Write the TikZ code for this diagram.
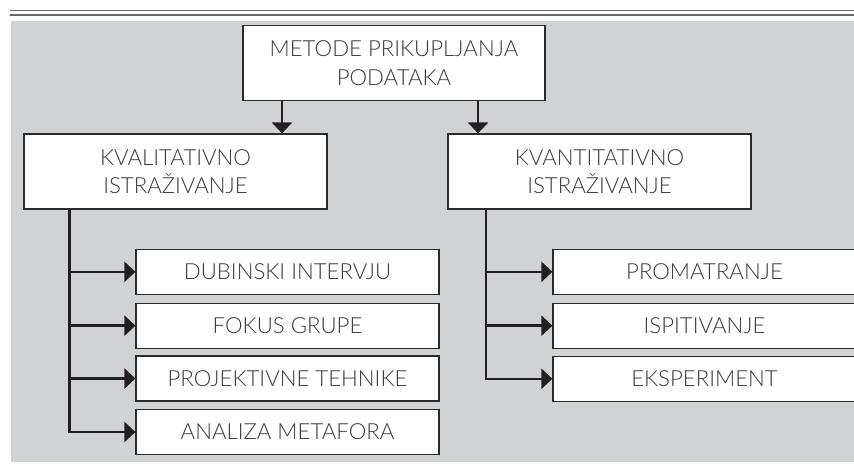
\documentclass[tikz,border=0pt]{standalone}
\usepackage{fontspec}
\setmainfont{Lato Light}
\usetikzlibrary{arrows.meta}
\definecolor{bggray}{HTML}{D1D2D4}
\definecolor{txt}{HTML}{3A3A3A}
\definecolor{edge}{HTML}{2B2B2B}
\definecolor{conn}{HTML}{231F20}
\definecolor{rule}{HTML}{6A6A6A}
\tikzset{
  box/.style={draw=edge, line width=1.2pt, fill=white, text=txt, align=center,
    inner sep=0pt, font=\fontsize{22.2}{28.4}\selectfont},
  bigbox/.style={box, minimum width=302pt, minimum height=75pt},
  smallbox/.style={box, minimum width=303pt, minimum height=45pt},
  arr/.style={draw=conn, line width=2.5pt, -{Triangle[length=11pt,width=20pt]}},
  trunk/.style={draw=conn, line width=2.5pt},
}
\begin{document}
\begin{tikzpicture}[x=1pt,y=-1pt]
\clip (0,0) rectangle (854,466);
\fill[white] (0,0) rectangle (854,466);
\fill[bggray] (11,21) rectangle (854,462);
\draw[rule, line width=1.3pt] (10,10.8) -- (854,10.8);
\draw[rule, line width=1.3pt] (10,15) -- (854,15);

\node[bigbox] (top) at (394,63) {METODE PRIKUPLJANJA\\PODATAKA};
\node[bigbox, minimum width=303pt] (kval) at (175.5,171.5) {KVALITATIVNO\\ISTRAŽIVANJE};
\node[bigbox, minimum width=303pt] (kvan) at (599.5,171.5) {KVANTITATIVNO\\ISTRAŽIVANJE};

\node[smallbox] (d1) at (287.5,271.8) {DUBINSKI INTERVJU};
\node[smallbox] (d2) at (287.5,325.7) {FOKUS GRUPE};
\node[smallbox] (d3) at (287.5,378.5) {PROJEKTIVNE TEHNIKE};
\node[smallbox] (d4) at (287.5,432) {ANALIZA METAFORA};

\node[smallbox] (p1) at (704.5,271.8) {PROMATRANJE};
\node[smallbox] (p2) at (704.5,325.7) {ISPITIVANJE};
\node[smallbox] (p3) at (704.5,378.8) {EKSPERIMENT};

\coordinate (ka) at (282,0);
\coordinate (kb) at (478,0);
\coordinate (tl) at (69.3,0);
\coordinate (tr) at (486,0);

\draw[arr] (top.south -| ka) -- (kval.north -| ka);
\draw[arr] (top.south -| kb) -- (kvan.north -| kb);

\draw[trunk] (kval.south -| tl) -- (tl |- d4.west);
\foreach \n in {d1,d2,d3,d4} \draw[arr] ([xshift=-1.25pt]tl |- \n.west) -- (\n.west);

\draw[trunk] (kvan.south -| tr) -- (tr |- p3.west);
\foreach \n in {p1,p2,p3} \draw[arr] ([xshift=-1.25pt]tr |- \n.west) -- (\n.west);
\end{tikzpicture}
\end{document}
